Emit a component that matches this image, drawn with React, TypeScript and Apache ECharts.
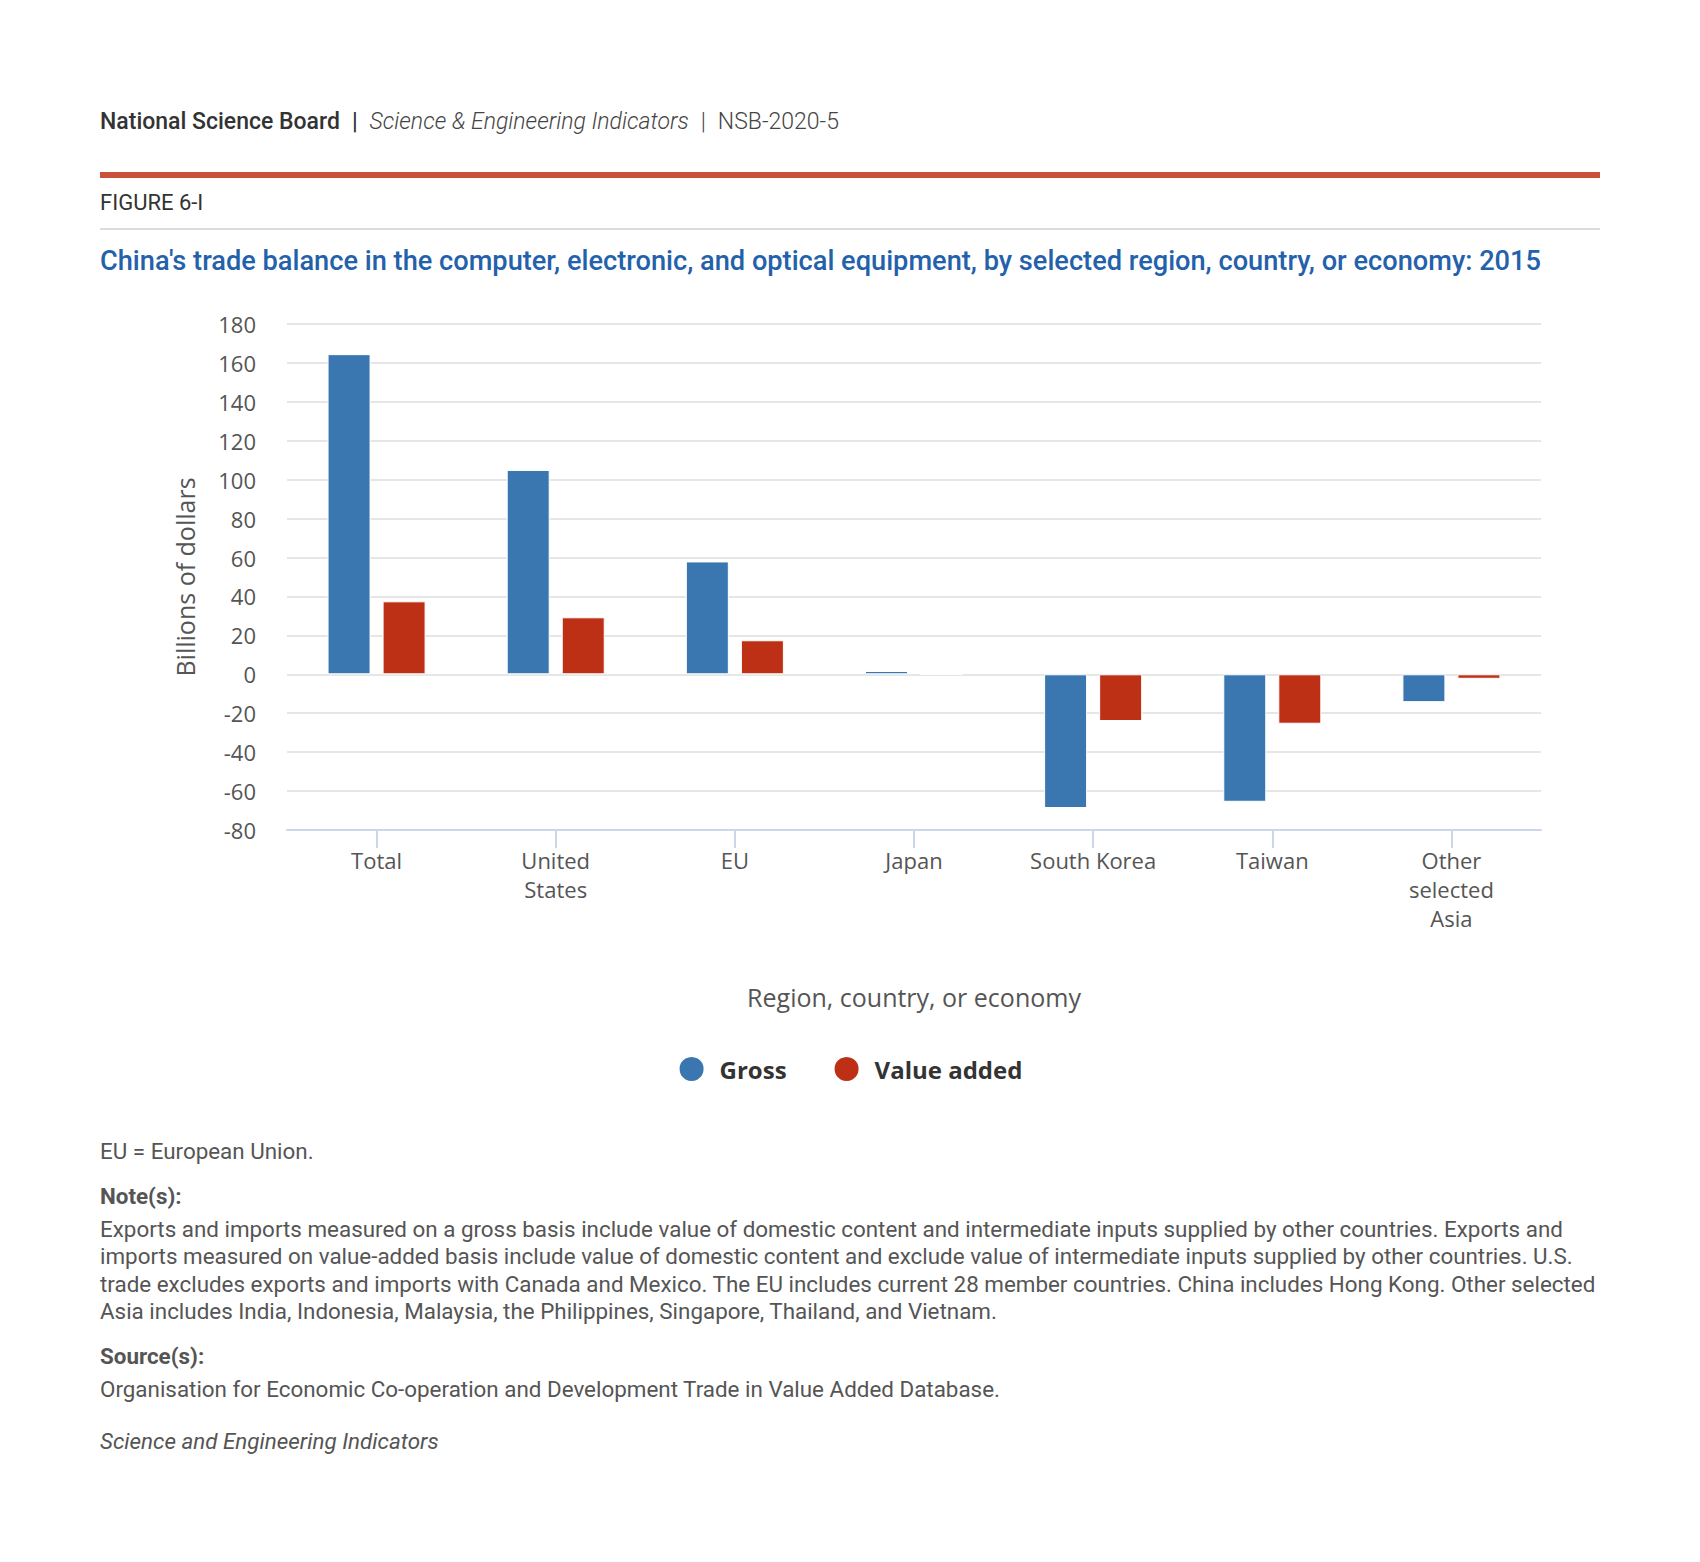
import React, { useEffect, useRef } from "react";
import * as echarts from "echarts";

const categories = ["Total", "United\nStates", "EU", "Japan", "South Korea", "Taiwan", "Other\nselected\nAsia"];
const grossValues = [164.5, 105, 58, 1.7, -68.7, -65.5, -14.3];
const valueAddedValues = [37.5, 29.3, 17.5, 0, -24, -25.4, -2.3];
const seriesNames = ["Gross", "Value added"];
const yMin = -80;
const yMax = 180;
const yInterval = 20;

const headerOrg = "National Science Board";
const headerPub = "Science & Engineering Indicators";
const headerId = "NSB-2020-5";
const figureLabel = "FIGURE 6-I";
const titleText =
  "China's trade balance in the computer, electronic, and optical equipment, by selected region, country, or economy: 2015";
const yAxisName = "Billions of dollars";
const xAxisName = "Region, country, or economy";
const abbrevText = "EU = European Union.";
const noteLines = [
  "Exports and imports measured on a gross basis include value of domestic content and intermediate inputs supplied by other countries. Exports and",
  "imports measured on value-added basis include value of domestic content and exclude value of intermediate inputs supplied by other countries. U.S.",
  "trade excludes exports and imports with Canada and Mexico. The EU includes current 28 member countries. China includes Hong Kong. Other selected",
  "Asia includes India, Indonesia, Malaysia, the Philippines, Singapore, Thailand, and Vietnam.",
];
const sourceText = "Organisation for Economic Co-operation and Development Trade in Value Added Database.";
const footerText = "Science and Engineering Indicators";

const BLUE = "#3a76b0";
const RED = "#bd3016";
const CHART_TOP = 270;

function Chart() {
  const ref = useRef<HTMLDivElement | null>(null);
  useEffect(() => {
    if (!ref.current) return;
    const chart = echarts.init(ref.current, null, { renderer: "svg" });
    const font = "'Open Sans', sans-serif";
    chart.setOption({
      animation: false,
      textStyle: { fontFamily: font },
      grid: { left: 287, right: 159, top: 324 - CHART_TOP, bottom: 840 - (830 - CHART_TOP), containLabel: false },
      legend: {
        data: seriesNames,
        left: "center",
        top: 1075 - CHART_TOP - 25,
        icon: "circle",
        itemWidth: 26,
        itemHeight: 26,
        itemGap: 46,
        textStyle: { fontFamily: font, fontSize: 24, fontWeight: "bold", color: "#333", padding: [0, 0, 0, 10] },
      },
      xAxis: {
        type: "category",
        data: categories,
        boundaryGap: true,
        axisLine: { show: true, onZero: false, lineStyle: { color: "#ccd6eb", width: 2 } },
        axisTick: { show: true, alignWithLabel: true, length: 18, lineStyle: { color: "#ccd6eb", width: 2 } },
        axisLabel: { fontFamily: font, fontSize: 22, color: "#555", lineHeight: 29, margin: 15, interval: 0 },
        name: xAxisName,
        nameLocation: "middle",
        nameGap: 154,
        nameTextStyle: { fontFamily: font, fontSize: 25, color: "#555" },
      },
      yAxis: {
        type: "value",
        min: yMin,
        max: yMax,
        interval: yInterval,
        axisLine: { show: false },
        axisTick: { show: false },
        splitLine: { show: true, lineStyle: { color: "#e6e6e6", width: 2 } },
        axisLabel: { fontFamily: font, fontSize: 22, color: "#555", margin: 31 },
        name: yAxisName,
        nameLocation: "middle",
        nameGap: 90,
        nameTextStyle: { fontFamily: font, fontSize: 25, color: "#555" },
      },
      series: [
        {
          name: seriesNames[0],
          type: "bar",
          data: grossValues,
          barWidth: 43,
          barGap: "28%",
          itemStyle: { color: BLUE, borderColor: "#fff", borderWidth: 1 },
        },
        {
          name: seriesNames[1],
          type: "bar",
          data: valueAddedValues,
          barWidth: 43,
          barGap: "28%",
          itemStyle: { color: RED, borderColor: "#fff", borderWidth: 1 },
        },
      ],
    });
    return () => chart.dispose();
  }, []);
  return <div ref={ref} style={{ position: "absolute", left: 0, top: CHART_TOP, width: 1700, height: 840 }} />;
}

const roboto = "Roboto, 'Noto Sans', sans-serif";

function Line({ top, children, style }: { top: number; children: React.ReactNode; style?: React.CSSProperties }) {
  return (
    <div
      style={{
        position: "absolute",
        left: 100,
        top: top - 16,
        height: 32,
        lineHeight: "32px",
        whiteSpace: "nowrap",
        fontFamily: roboto,
        fontSize: 22.4,
        color: "#555",
        ...style,
      }}
    >
      {children}
    </div>
  );
}

const sep: React.CSSProperties = { margin: "0 12px", fontWeight: 500, color: "#333" };

export default function App() {
  return (
    <div style={{ position: "absolute", left: 0, top: 0, width: 1700, height: 1562, background: "#fff", overflow: "hidden" }}>
      <Line top={122} style={{ fontSize: 23, color: "#333" }}>
        <span style={{ fontWeight: 500, color: "#333" }}>{headerOrg}</span>
        <span style={sep}>|</span>
        <span style={{ fontStyle: "italic", fontWeight: 300, color: "#444" }}>{headerPub}</span>
        <span style={{ ...sep, fontWeight: 300, color: "#444" }}>|</span>
        <span style={{ fontWeight: 300, color: "#444" }}>{headerId}</span>
      </Line>
      <div style={{ position: "absolute", left: 100, top: 172, width: 1500, height: 6, background: "#c9513a" }} />
      <Line top={203} style={{ fontSize: 22, color: "#333", fontWeight: 400 }}>
        {figureLabel}
      </Line>
      <div style={{ position: "absolute", left: 100, top: 228, width: 1500, height: 2, background: "#dcdcdc" }} />
      <Line top={261} style={{ fontSize: 27.2, fontWeight: 500, color: "#2461ab", height: 36, lineHeight: "36px", top: 243 }}>
        {titleText}
      </Line>
      <Chart />
      <Line top={1151}>{abbrevText}</Line>
      <Line top={1196} style={{ fontWeight: 700 }}>
        Note(s):
      </Line>
      {noteLines.map((l, i) => (
        <Line key={i} top={1228.5 + i * 27.6}>
          {l}
        </Line>
      ))}
      <Line top={1356} style={{ fontWeight: 700 }}>
        Source(s):
      </Line>
      <Line top={1389}>{sourceText}</Line>
      <Line top={1441} style={{ fontStyle: "italic" }}>
        {footerText}
      </Line>
    </div>
  );
}
